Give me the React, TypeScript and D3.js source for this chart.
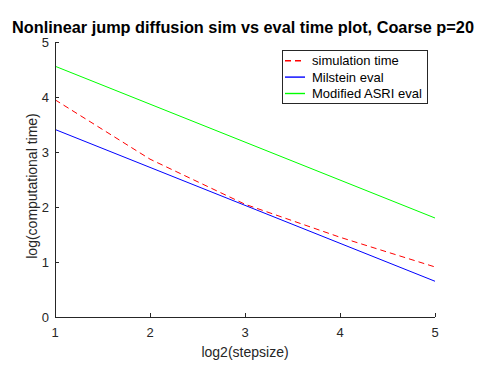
import React from "react";
import * as d3 from "d3";

const stepsizes = [1, 2, 3, 4, 5];
const simulationTime = [3.95, 2.87, 2.05, 1.45, 0.91];
const milsteinEval = [3.41, 2.72, 2.03, 1.34, 0.65];
const asriEval = [4.56, 3.87, 3.18, 2.49, 1.8];
const xTicks = [1, 2, 3, 4, 5];
const yTicks = [0, 1, 2, 3, 4, 5];
const seriesNames = ["simulation time", "Milstein eval", "Modified ASRI eval"];

export default function App() {
  const W = 478, H = 367;
  const left = 55, right = 435, top = 42, bottom = 317;
  const x = d3.scaleLinear().domain([1, 5]).range([left, right]);
  const y = d3.scaleLinear().domain([0, 5]).range([bottom, top]);
  const line = d3.line<[number, number]>().x(d => x(d[0])).y(d => y(d[1]));
  const mk = (vals: number[]) => line(stepsizes.map((s, i) => [s, vals[i]] as [number, number])) || "";
  const series = [
    { vals: simulationTime, color: "#ff0000", dash: "6,4" },
    { vals: milsteinEval, color: "#0000ff", dash: undefined },
    { vals: asriEval, color: "#00ff00", dash: undefined },
  ];
  const axisColor = "#262626";
  const font = "'Liberation Sans', Arial, Helvetica, sans-serif";
  return (
    <svg width={W} height={H} style={{ position: "absolute", left: 0, top: 0, background: "#fff" }} fontFamily={font}>
      <rect x={0} y={0} width={W} height={H} fill="#fff" />
      {series.map((s, i) => (
        <path key={i} d={mk(s.vals)} fill="none" stroke={s.color} strokeWidth={1} strokeDasharray={s.dash} />
      ))}
      {/* axes */}
      <line x1={left} y1={bottom + 0.5} x2={right} y2={bottom + 0.5} stroke={axisColor} strokeWidth={1} />
      <line x1={left + 0.5} y1={top} x2={left + 0.5} y2={bottom} stroke={axisColor} strokeWidth={1} />
      {xTicks.map(t => (
        <g key={"x" + t}>
          <line x1={Math.round(x(t)) + 0.5} x2={Math.round(x(t)) + 0.5} y1={bottom} y2={bottom - 4} stroke={axisColor} />
          <text x={x(t)} y={337} textAnchor="middle" fontSize={13} fill={axisColor}>{t}</text>
        </g>
      ))}
      {yTicks.map(t => (
        <g key={"y" + t}>
          <line x1={left} x2={left + 4} y1={Math.round(y(t)) + 0.5} y2={Math.round(y(t)) + 0.5} stroke={axisColor} />
          <text x={49} y={y(t) + 4.5} textAnchor="end" fontSize={13} fill={axisColor}>{t}</text>
        </g>
      ))}
      <text x={245} y={357} textAnchor="middle" fontSize={14} fill={axisColor}>log2(stepsize)</text>
      <text transform={`translate(37,186) rotate(-90)`} textAnchor="middle" fontSize={14} fill={axisColor}>log(computational time)</text>
      <text x={243} y={33} textAnchor="middle" fontSize={16.3} fontWeight="bold" fill="#000">Nonlinear jump diffusion sim vs eval time plot, Coarse p=20</text>
      {/* legend */}
      <rect x={282.5} y={50.5} width={145} height={53} fill="#fff" stroke={axisColor} strokeWidth={1} />
      {series.map((s, i) => {
        const ly = 60.7 + i * 16.4;
        return (
          <g key={"l" + i}>
            <line x1={285} x2={305} y1={ly} y2={ly} stroke={s.color} strokeWidth={1.4} strokeDasharray={s.dash} />
            <text x={312} y={ly + 4.5} fontSize={13} fill="#000">{seriesNames[i]}</text>
          </g>
        );
      })}
    </svg>
  );
}
